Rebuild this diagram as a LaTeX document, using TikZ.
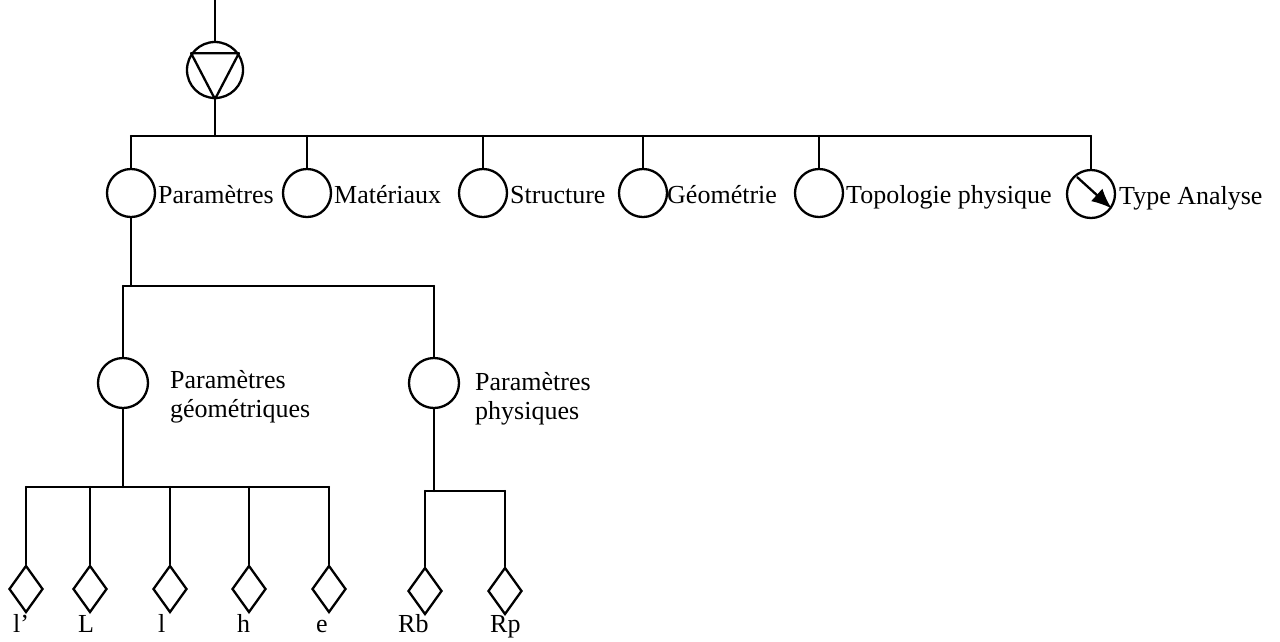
\documentclass[tikz,border=0pt]{standalone}
\usepackage{fontspec}
\setmainfont{Liberation Serif}
\usetikzlibrary{shapes.geometric,arrows.meta,calc}
\tikzset{
  ln/.style={line width=2.3pt, line cap=round, line join=round},
  circ/.style={circle, draw, line width=2.3pt, inner sep=0pt, minimum size=48pt},
  subcirc/.style={circ, minimum size=50pt},
  rootcirc/.style={circ, minimum size=56pt},
  leaf/.style={diamond, draw, line width=2.3pt, inner sep=0pt, minimum width=34pt, minimum height=47pt},
  lbl/.style={inner sep=0pt, font=\fontsize{26}{29.5}\selectfont},
  lbl2/.style={lbl, align=left, anchor=north west},
}
\begin{document}
\begin{tikzpicture}[x=1pt,y=-1pt]
\useasboundingbox (0,0) rectangle (1280,641);
% root
\coordinate (topend) at (215,0);
\node[rootcirc] (root) at (215,70) {};
\draw[ln] (topend) -- (root.north);
\draw[ln] (root.145) -- (root.35) -- (root.270) -- cycle;
% level 1
\coordinate (bus) at (0,136);
\node[circ] (p) at (131,193) {};
\node[circ] (m) at (307,193) {};
\node[circ] (s) at (483,193) {};
\node[circ] (g) at (643,193) {};
\node[circ] (t) at (819,193) {};
\node[circ] (ta) at (1091,194) {};
\draw[ln] (root.south) -- (root.south |- bus);
\draw[ln] (p.north |- bus) -- (ta.north |- bus);
\foreach \n in {p,m,s,g,t,ta} \draw[ln] (\n.north) -- (\n.north |- bus);
\draw[line width=2.3pt, -{Latex[length=20pt,width=17pt]}] ($(ta.center)+(-14,-17)$) -- (ta.-35);
\node[lbl, anchor=base west] (tp) at (158,203) {Paramètres};
\node[lbl, anchor=base west] (tm) at (334,203) {Matériaux};
\node[lbl, anchor=base west] (ts) at (510,203) {Structure};
\node[lbl, anchor=base west] (tg) at (667,203) {Géométrie};
\node[lbl, anchor=base west] (tt) at (846,203) {Topologie physique};
\node[lbl, anchor=base west] (tta) at (1119,204) {Type Analyse};
% level 2
\coordinate (bus2) at (0,286);
\node[subcirc] (pg) at (123,383) {};
\node[subcirc] (pp) at (434,383) {};
\draw[ln] (p.south) -- (p.south |- bus2);
\draw[ln] (pg.north |- bus2) -- (pp.north |- bus2);
\draw[ln] (pg.north) -- (pg.north |- bus2);
\draw[ln] (pp.north) -- (pp.north |- bus2);
\node[lbl2] (tpg) at (170,370) {Paramètres\\géométriques};
\node[lbl2] (tpp) at (475,372) {Paramètres\\physiques};
% level 3
\coordinate (bus3) at (0,487);
\coordinate (bus4) at (0,491);
\node[leaf] (d1) at (26,589) {};
\node[leaf] (d2) at (90,589) {};
\node[leaf] (d3) at (170,589) {};
\node[leaf] (d4) at (249,589) {};
\node[leaf] (d5) at (329,589) {};
\node[leaf] (d6) at (425,591) {};
\node[leaf] (d7) at (505,591) {};
\draw[ln] (pg.south) -- (pg.south |- bus3);
\draw[ln] (d1.north |- bus3) -- (d5.north |- bus3);
\foreach \n in {d1,d2,d3,d4,d5} \draw[ln] (\n.north) -- (\n.north |- bus3);
\draw[ln] (pp.south) -- (pp.south |- bus4);
\draw[ln] (d6.north |- bus4) -- (d7.north |- bus4);
\foreach \n in {d6,d7} \draw[ln] (\n.north) -- (\n.north |- bus4);
\node[lbl, anchor=base west] (l1) at (13,632) {l’};
\node[lbl, anchor=base west] (l2) at (78,632) {L};
\node[lbl, anchor=base west] (l3) at (158,632) {l};
\node[lbl, anchor=base west] (l4) at (237,632) {h};
\node[lbl, anchor=base west] (l5) at (316,632) {e};
\node[lbl, anchor=base west] (l6) at (398,632) {Rb};
\node[lbl, anchor=base west] (l7) at (490,632) {Rp};
\end{tikzpicture}
\end{document}
